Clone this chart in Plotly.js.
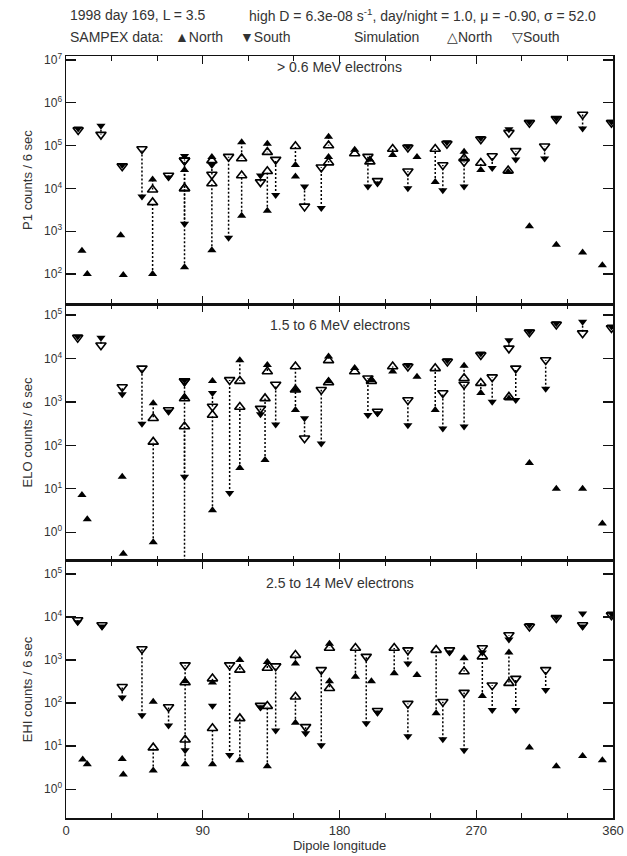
<!DOCTYPE html>
<html><head><meta charset="utf-8">
<script src="https://cdn.plot.ly/plotly-3.0.1.min.js"></script>
<style>html,body{margin:0;padding:0;background:#fff}#chart{width:627px;height:856px}</style>
</head><body><div id="chart"></div>
<script>
// ---------- data ----------
// Panel 1: P1 (> 0.6 MeV electrons)
const P1_N_lon  = [10.5,14,36,37.7,57,57,78,78,96,96,115.6,115.6,132.5,132.5,151,151,172.8,172.8,190,200,215,231,243,262,273,291,305,322.7,340,353];
const P1_N_data = [350,100,800,95,1.6e4,100,2.7e4,145,5.4e4,360,1.2e5,2.3e3,1.1e5,3e3,3.5e4,1.9e4,1.6e5,5.4e4,8e4,4.7e4,6e4,5.4e4,1.4e4,7.2e4,2.7e4,2.4e4,1.3e3,480,320,160];
const P1_N_sim  = [null,null,null,null,9.3e3,4.7e3,1e4,1e4,4.5e4,1.3e4,5e4,2e4,7e4,2.5e4,9.6e4,null,1e5,4e4,6.5e4,4.2e4,8.3e4,null,8.3e4,5e4,3.9e4,2.6e4,null,null,null,null];
const P1_S_lon  = [8,23,37,50,67.5,78,78,96,107,128,138,157,168,198.7,205,225,225,248,250.7,262,273,280.5,291.5,296,305,315,322.7,340,359];
const P1_S_data = [2.5e5,2.9e5,3.5e4,6.5e3,1.8e4,5.7e4,1.5e3,3.5e4,700,2e4,7e3,1.1e4,3.5e3,1.1e4,1.3e4,9.6e4,1e4,9e3,1.2e5,1.1e4,1.5e5,3e4,2.4e5,4.7e4,3.6e5,5e4,4.4e5,2.5e5,3.6e5];
const P1_S_sim  = [2.3e5,1.8e5,3.3e4,8.3e4,2e4,4.5e4,4.5e4,2.1e4,5.5e4,1.4e4,4.7e4,3.8e3,3.1e4,5.5e4,1.5e4,9e4,2.5e4,3.5e4,1.1e5,4.2e4,1.4e5,5.7e4,2e5,7.5e4,3.4e5,9.6e4,4.2e5,5.3e5,3.4e5];

// Panel 2: ELO (1.5 to 6 MeV electrons)
const ELO_N_lon  = [10.5,14,37,37.7,57.4,57.4,78,78,96.4,96.4,114.4,114.4,131,132.5,151,151,172.8,172.8,190,201,215,231,243,262,273,291.5,305,322.7,340,353];
const ELO_N_data = [7.2,2,19,0.32,930,0.59,1.3e3,0.05,3e3,3.2,9e3,30,46,7e3,650,1.9e3,1.1e4,3e3,6e3,3.2e3,5e3,3.8e3,650,6.8e3,1.6e3,1.2e3,39,10,10,1.6];
const ELO_N_sim  = [null,null,null,null,420,120,1.2e3,270,null,500,3e3,760,1.2e3,5e3,1.9e3,6.5e3,9e3,2.8e3,5e3,3e3,6.5e3,null,5.9e3,3.5e3,2.7e3,1.3e3,null,null,null,null];
const ELO_S_lon  = [7.7,23,37,50,67.5,78,78,96.4,107.7,128,138,157,168,198.7,205,225,225,248,251,262,273,280.5,291.5,296,305,315.7,322.7,340,359];
const ELO_S_data = [3.2e4,3e4,1.5e3,315,600,3.2e3,19,1.6e3,8,520,300,420,110,500,550,7e3,290,245,9e3,270,1.3e4,1e3,2.6e4,1.1e3,4.2e4,2e3,6.4e4,7e4,5.4e4];
const ELO_S_sim  = [3e4,2e4,2.2e3,5.9e3,650,3e3,3e3,780,3.2e3,700,2.5e3,145,1.9e3,3.5e3,600,6.5e3,1.1e3,1.6e3,8.5e3,2.5e3,1.2e4,3.7e3,1.7e4,5.9e3,4e4,9.2e3,6e4,3.8e4,5e4];

// Panel 3: EHI (2.5 to 14 MeV electrons)
const EHI_N_lon  = [11,14,37,37.7,57.4,57.4,78.4,78.4,96.4,96.4,114.4,114.4,132.5,132.5,151,151,173.4,173.4,190.5,201,216,231,243.6,262,274,291.5,305,322.7,340,353];
const EHI_N_data = [4.9,3.8,5,2.2,107,2.7,320,3.8,300,3.8,1e3,4.7,900,3.4,830,35,2.4e3,320,410,320,490,450,58,1.1e3,145,1.5e3,9.3,3.4,5.9,4.7];
const EHI_N_sim  = [null,null,null,null,null,9.2,300,14,370,26,590,44,650,85,1.3e3,140,1.9e3,220,1.9e3,null,1.9e3,null,1.7e3,540,1.2e3,290,null,null,null,null];
const EHI_S_lon  = [7.7,23.7,37,50,67.5,78.4,96.4,107.7,128,138,157.7,168,197.6,205,225,225,248,252.4,262,274,280.5,291.5,296,305,315.7,322.7,340,340,359];
const EHI_S_data = [7.5e3,6e3,135,52,30,8,87,6.2,80,23,20,10.5,34,60,830,17,14.5,1.5e3,8,1.5e3,69,3e3,69,6.5e3,200,1e4,1.2e4,6e3,1.2e4];
const EHI_S_sim  = [8.5e3,6.5e3,240,1.8e3,81,760,null,760,87,720,28,590,1.2e3,66,1.7e3,97,107,1.7e3,175,1.9e3,260,3.8e3,370,6e3,590,9.5e3,null,6.5e3,1.1e4];

const panelLabels = ['> 0.6 MeV electrons','1.5 to 6 MeV electrons','2.5 to 14 MeV electrons'];
const yTitles = ['P1 counts / 6 sec','ELO counts / 6 sec','EHI counts / 6 sec'];
const P1_tickVals = [1e2,1e3,1e4,1e5,1e6,1e7];
const P1_tickText = ['10<sup>2</sup>','10<sup>3</sup>','10<sup>4</sup>','10<sup>5</sup>','10<sup>6</sup>','10<sup>7</sup>'];
const E_tickVals = [1,10,1e2,1e3,1e4,1e5];
const E_tickText = ['10<sup>0</sup>','10<sup>1</sup>','10<sup>2</sup>','10<sup>3</sup>','10<sup>4</sup>','10<sup>5</sup>'];
const xTickVals = [0,90,180,270,360];
const xTickText = ['0','90','180','270','360'];

// ---------- drawing ----------
const FONT = 'Liberation Sans, Arial, Helvetica, sans-serif';
const TXT = '#333';
const traces = [];
function connectors(lon,a,b){
  const xs=[],ys=[];
  for(let i=0;i<lon.length;i++){
    if(a[i]!=null && b[i]!=null){xs.push(lon[i],lon[i],null);ys.push(a[i],b[i],null);}
  }
  return {xs,ys};
}
function addPanel(k, Nlon,Ndata,Nsim,Slon,Sdata,Ssim){
  const xa = k===1?'x':'x'+k, ya = k===1?'y':'y'+k;
  [[Nlon,Ndata,Nsim],[Slon,Sdata,Ssim]].forEach(([l,d,s])=>{
    const c = connectors(l,d,s);
    traces.push({x:c.xs,y:c.ys,xaxis:xa,yaxis:ya,mode:'lines',type:'scatter',
      line:{color:'#000',width:1.5,dash:'2px,2px'},hoverinfo:'skip',showlegend:false});
  });
  traces.push({x:Nlon,y:Nsim,xaxis:xa,yaxis:ya,mode:'markers',type:'scatter',showlegend:false,
    marker:{symbol:'triangle-up-open',size:9,color:'#000',line:{width:1.6,color:'#000'}}});
  traces.push({x:Slon,y:Ssim,xaxis:xa,yaxis:ya,mode:'markers',type:'scatter',showlegend:false,
    marker:{symbol:'triangle-down-open',size:9,color:'#000',line:{width:1.6,color:'#000'}}});
  traces.push({x:Nlon,y:Ndata,xaxis:xa,yaxis:ya,mode:'markers',type:'scatter',showlegend:false,
    marker:{symbol:'triangle-up',size:8,color:'#000',line:{width:0}}});
  traces.push({x:Slon,y:Sdata,xaxis:xa,yaxis:ya,mode:'markers',type:'scatter',showlegend:false,
    marker:{symbol:'triangle-down',size:8,color:'#000',line:{width:0}}});
}
addPanel(1,P1_N_lon,P1_N_data,P1_N_sim,P1_S_lon,P1_S_data,P1_S_sim);
addPanel(2,ELO_N_lon,ELO_N_data,ELO_N_sim,ELO_S_lon,ELO_S_data,ELO_S_sim);
addPanel(3,EHI_N_lon,EHI_N_data,EHI_N_sim,EHI_S_lon,EHI_S_data,EHI_S_sim);

function xAxis(anchor, labels, title){
  const o = {anchor:anchor, range:[0,360], showgrid:false, zeroline:false,
    showline:true, linecolor:'#111', linewidth:1.5, mirror:'ticks',
    ticks:'inside', ticklen:8, tickwidth:1.3, tickcolor:'#111',
    tickvals:xTickVals, ticktext:xTickText, showticklabels:labels,
    minor:{tickvals:[30,60,120,150,210,240,300,330], ticks:'inside', ticklen:5, tickwidth:1, tickcolor:'#111'},
    tickfont:{family:FONT,size:13,color:TXT}};
  if(title) o.title = {text:title, font:{family:FONT,size:13,color:TXT}, standoff:3};
  return o;
}
function yAxis(dom, rng, tv, tt, title){
  return {domain:dom, type:'log', range:rng, showgrid:false, zeroline:false,
    showline:true, linecolor:'#111', linewidth:1.5, mirror:'ticks',
    ticks:'inside', ticklen:10, tickwidth:1.3, tickcolor:'#111',
    tickvals:tv, ticktext:tt, tickfont:{family:FONT,size:12,color:TXT},
    title:{text:title, font:{family:FONT,size:13,color:TXT}, standoff:8}};
}
const annFont = {family:FONT,size:14,color:TXT};
const header = [
  {text:'1998 day 169, L = 3.5', x:0.003, y:1.054},
  {text:'high D = 6.3e-08 s<sup>-1</sup>, day/night = 1.0, \u03bc = -0.90, \u03c3 = 52.0', x:0.331, y:1.054},
  {text:'SAMPEX data:', x:0.003, y:1.025},
  {text:'\u25b2North', x:0.195, y:1.025},
  {text:'\u25bcSouth', x:0.314, y:1.025},
  {text:'Simulation', x:0.523, y:1.025},
  {text:'\u25b3North', x:0.692, y:1.025},
  {text:'\u25bdSouth', x:0.812, y:1.025}
].map(a=>({text:a.text,x:a.x,y:a.y,xref:'paper',yref:'paper',xanchor:'left',yanchor:'middle',showarrow:false,font:annFont}));
const pl = [
  {text:panelLabels[0], yref:'y domain', y:0.955},
  {text:panelLabels[1], yref:'y2 domain', y:0.918},
  {text:panelLabels[2], yref:'y3 domain', y:0.914}
].map(a=>({text:a.text,x:0.5,xref:'paper',yref:a.yref,y:a.y,xanchor:'center',yanchor:'middle',showarrow:false,font:annFont}));

const layout = {
  width:627, height:856, paper_bgcolor:'#fff', plot_bgcolor:'#fff',
  margin:{l:66,r:14,t:56,b:38}, showlegend:false,
  font:{family:FONT,size:12,color:TXT},
  xaxis: xAxis('y', false),
  xaxis2: xAxis('y2', false),
  xaxis3: xAxis('y3', true, 'Dipole longitude'),
  yaxis: yAxis([0.6745,1],[1.3,7.09],P1_tickVals,P1_tickText,yTitles[0]),
  yaxis2: yAxis([0.3373,0.6745],[-0.66,5.25],E_tickVals,E_tickText,yTitles[1]),
  yaxis3: yAxis([0,0.3373],[-0.67,5.3],E_tickVals,E_tickText,yTitles[2]),
  annotations: header.concat(pl)
};
Plotly.newPlot('chart', traces, layout, {displayModeBar:false, staticPlot:true});
</script></body></html>
